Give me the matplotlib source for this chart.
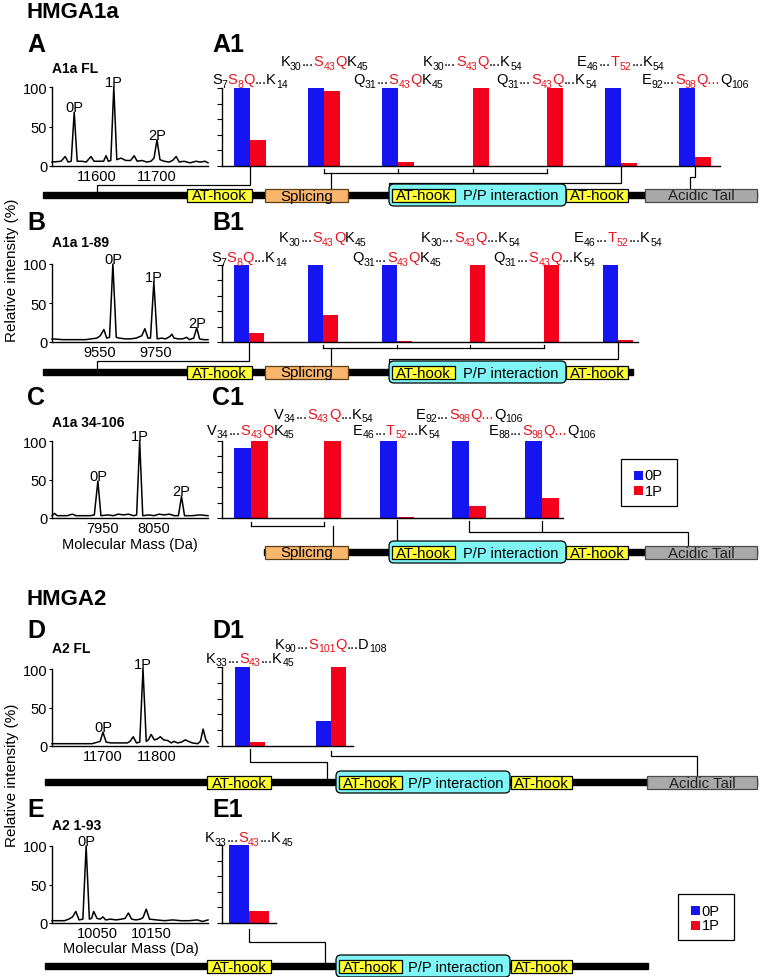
import re
import numpy as np
import matplotlib
matplotlib.use('Agg')
import matplotlib.pyplot as plt
from matplotlib.patches import Rectangle, FancyBboxPatch

plt.rcParams['font.family'] = ['Liberation Sans', 'DejaVu Sans']

# ---------------- data ----------------
# MS spectra (mass in Da, relative intensity %)
A_mass = [11525, 11540, 11547, 11552, 11557, 11562, 11567, 11575, 11582, 11590, 11595, 11605, 11611, 11615,
          11619, 11623, 11628, 11633, 11640, 11648, 11656, 11662, 11667, 11675, 11683, 11690, 11695, 11700,
          11705, 11712, 11720, 11726, 11732, 11737, 11745, 11755, 11765, 11772, 11780, 11785]
A_int = [5, 6, 12, 5, 6, 68, 6, 6, 5, 12, 6, 6, 6, 13,
         6, 7, 100, 8, 10, 7, 7, 13, 6, 7, 5, 6, 10, 33,
         8, 6, 5, 7, 12, 5, 6, 4, 6, 5, 6, 4]
A_peak_labels = ['0P', '1P', '2P']
A_peak_mass = [11562, 11628, 11700]
A_xticks = [11600, 11700]

B_mass = [9380, 9420, 9460, 9500, 9540, 9552, 9565, 9575, 9585, 9597, 9609, 9620, 9640, 9660, 9680, 9700,
          9711, 9722, 9731, 9743, 9755, 9770, 9785, 9800, 9807, 9815, 9830, 9845, 9860, 9870, 9885, 9896,
          9906, 9920, 9936]
B_int = [4, 3, 3, 3, 5, 8, 16, 5, 6, 100, 6, 5, 4, 4, 5, 8,
         17, 5, 5, 77, 4, 5, 4, 7, 10, 5, 4, 4, 6, 3, 5, 18,
         4, 3, 3]
B_peak_labels = ['0P', '1P', '2P']
B_peak_mass = [9597, 9743, 9896]
B_xticks = [9550, 9750]

C_mass = [7850, 7855, 7860, 7870, 7880, 7890, 7897, 7910, 7925, 7933, 7940, 7946, 7960, 7970, 7980, 7990,
          8000, 8010, 8016, 8022, 8028, 8040, 8050, 8060, 8070, 8080, 8090, 8098, 8104, 8110, 8125, 8140, 8156]
C_int = [3, 6, 3, 3, 3, 5, 3, 3, 3, 4, 48, 3, 4, 3, 5, 4,
         5, 3, 4, 100, 3, 4, 3, 5, 4, 5, 3, 3, 28, 3, 3, 4, 3]
C_peak_labels = ['0P', '1P', '2P']
C_peak_mass = [7940, 8022, 8104]
C_xticks = [7950, 8050]

D_mass = [11606, 11620, 11640, 11660, 11680, 11690, 11695, 11700, 11706, 11715, 11730, 11745, 11750, 11756,
          11762, 11768, 11774, 11780, 11784, 11789, 11795, 11800, 11806, 11812, 11820, 11826, 11831, 11838,
          11845, 11852, 11858, 11865, 11875, 11880, 11885, 11890, 11894]
D_int = [3, 3, 3, 3, 3, 5, 6, 18, 5, 4, 4, 4, 6, 12,
         4, 5, 100, 6, 8, 15, 8, 9, 12, 8, 7, 4, 6, 4,
         5, 8, 6, 4, 3, 6, 22, 8, 4]
D_peak_labels = ['0P', '1P']
D_peak_mass = [11700, 11774]
D_xticks = [11700, 11800]

E_mass = [9967, 9980, 9990, 9998, 10005, 10011, 10017, 10024, 10030, 10036, 10040, 10044, 10050, 10056,
          10061, 10066, 10075, 10085, 10095, 10102, 10108, 10114, 10122, 10130, 10135, 10141, 10147, 10160,
          10175, 10190, 10205, 10220, 10235, 10245, 10255]
E_int = [3, 3, 3, 5, 8, 15, 4, 5, 100, 5, 6, 15, 6, 5,
         8, 4, 5, 4, 5, 6, 13, 5, 4, 5, 7, 18, 5, 4,
         3, 4, 3, 3, 4, 2, 4]
E_peak_labels = ['0P']
E_peak_mass = [10030]
E_xticks = [10050, 10150]

# Relative intensities of peptides (0P / 1P); [..] marks the red (phospho-site) part
A1_peptides = ["S_7[S_8Q]...K_14", "K_30...[S_43Q]K_45", "Q_31...[S_43Q]K_45", "K_30...[S_43Q]...K_54",
               "Q_31...[S_43Q]...K_54", "E_46...[T_52]...K_54", "E_92...[S_98Q...]Q_106"]
A1_0P = [100, 100, 100, 0, 0, 100, 100]
A1_1P = [33, 96, 5, 100, 100, 4, 12]

B1_peptides = ["S_7[S_8Q]...K_14", "K_30...[S_43Q]K_45", "Q_31...[S_43Q]K_45", "K_30...[S_43Q]...K_54",
               "Q_31...[S_43Q]...K_54", "E_46...[T_52]...K_54"]
B1_0P = [100, 100, 100, 0, 0, 100]
B1_1P = [12, 35, 1, 100, 100, 2]

C1_peptides = ["V_34...[S_43Q]K_45", "V_34...[S_43Q]...K_54", "E_46...[T_52]...K_54",
               "E_92...[S_98Q...]Q_106", "E_88...[S_98Q...]Q_106"]
C1_0P = [91, 0, 100, 100, 100]
C1_1P = [100, 100, 1, 15, 26]

D1_peptides = ["K_33...[S_43]...K_45", "K_90...[S_101Q]...D_108"]
D1_0P = [100, 32]
D1_1P = [5, 100]

E1_peptides = ["K_33...[S_43]...K_45"]
E1_0P = [100]
E1_1P = [16]

# ---------------- style ----------------
BLUE = '#1515f2'
RED = '#f5001c'
RED_T = '#e8141e'
YELLOW = '#ffff33'
ORANGE = '#f7b66c'
CYAN = '#80f5f5'
GRAY = '#a9a9a9'

W, H = 760, 978
fig = plt.figure(figsize=(W / 100, H / 100), dpi=100)
renderer = fig.canvas.get_renderer()

ov = fig.add_axes([0, 0, 1, 1], zorder=5)
ov.set_xlim(0, W)
ov.set_ylim(H, 0)
ov.axis('off')


def px_axes(x0, y0, x1, y1):
    ax = fig.add_axes([x0 / W, 1 - y1 / H, (x1 - x0) / W, (y1 - y0) / H])
    ax.patch.set_visible(False)
    return ax


def spectrum(rect, mass, inten, xticks, peak_labels, peak_mass, title, tb):
    ax = px_axes(*rect)
    ax.plot(mass, inten, color='black', lw=1.1, clip_on=False)
    ax.set_xlim(mass[0], mass[-1])
    ax.set_ylim(0, 100)
    ax.set_xticks(xticks)
    ax.set_yticks([0, 50, 100])
    for lab, m in zip(peak_labels, peak_mass):
        h = np.interp(m, mass, inten)
        ax.text(m, h + 1.5, lab, ha='center', va='baseline', fontsize=10.5, clip_on=False)
    for s in ('top', 'right'):
        ax.spines[s].set_visible(False)
    for s in ('left', 'bottom'):
        ax.spines[s].set_linewidth(1.0)
    ax.tick_params(axis='y', length=2.5, width=0.8, pad=1, labelsize=10.5)
    ax.tick_params(axis='x', length=0, pad=2.5, labelsize=10.5)
    ov.text(rect[0], tb, title, fontsize=10, fontweight='bold', ha='left', va='baseline')
    return ax


FS_MAIN, FS_SUB, SUB_DROP = 10.5, 7.6, 3.5


def pieces_of(s):
    out = []
    for part in re.split(r'(\[[^\]]*\])', s):
        if not part:
            continue
        c = RED_T if part.startswith('[') else 'black'
        for tok in re.split(r'(_\d+)', part.strip('[]')):
            if not tok:
                continue
            if tok.startswith('_'):
                out.append((tok[1:], c, True))
            else:
                out.append((tok, c, False))
    return out


def label(xc, yb, s):
    pcs = pieces_of(s)
    widths = []
    for t, c, sub in pcs:
        tt = ov.text(0, 0, t, fontsize=FS_SUB if sub else FS_MAIN)
        widths.append(tt.get_window_extent(renderer).width)
        tt.remove()
    x = xc - sum(widths) / 2
    for (t, c, sub), w in zip(pcs, widths):
        ov.text(x, yb + (SUB_DROP if sub else 0), t, color=c,
                fontsize=FS_SUB if sub else FS_MAIN, ha='left', va='baseline')
        x += w


def barchart(rect, g0, step, wpx, peptides, v0, v1, rows):
    ax = px_axes(*rect)
    n = len(peptides)
    x = np.arange(n)
    w = wpx / step
    ax.bar(x - w / 2, v0, w, color=BLUE, linewidth=0)
    ax.bar(x + w / 2, v1, w, color=RED, linewidth=0)
    xl = (-(g0 - rect[0]) / step, (rect[2] - g0) / step)
    ax.set_xlim(*xl)
    ax.set_ylim(0, 100)
    ax.set_yticks(np.arange(0, 101, 20))
    ax.set_yticklabels([])
    ax.set_xticks([])
    for s in ('top', 'right'):
        ax.spines[s].set_visible(False)
    for s in ('left', 'bottom'):
        ax.spines[s].set_linewidth(1.0)
    ax.tick_params(axis='y', length=3.5, width=0.8, direction='out')
    gpx = [rect[0] + (i - xl[0]) / (xl[1] - xl[0]) * (rect[2] - rect[0]) for i in x]
    for i, p in enumerate(peptides):
        label(gpx[i], rows[0] if i % 2 == 0 else rows[1], p)
    return gpx


def line(pts):
    xs, ys = zip(*pts)
    ov.plot(xs, ys, color='black', lw=0.9, solid_joinstyle='miter', zorder=1)


def domain_row(y, x0, x1, boxes):
    ov.add_patch(Rectangle((x0, y - 3), x1 - x0, 6, color='black', zorder=2))
    for kind, a, b, lab in boxes:
        if kind == 'pp':
            ov.add_patch(FancyBboxPatch((a, y - 11), b - a, 22,
                                        boxstyle='round,pad=0,rounding_size=5',
                                        fc=CYAN, ec='black', lw=0.9, zorder=3))
            ia, ib = a + 3, a + 66
            ov.add_patch(Rectangle((ia, y - 6.5), ib - ia, 13, fc=YELLOW, ec='black', lw=0.9, zorder=4))
            ov.text((ia + ib) / 2, y + 0.5, 'AT-hook', fontsize=10.8, ha='center', va='center', zorder=5)
            ov.text((ib + b) / 2, y + 0.5, lab, fontsize=10.5, ha='center', va='center', zorder=5)
        else:
            fc, ec, tc = {'at': (YELLOW, 'black', 'black'),
                          'spl': (ORANGE, '#5c3f16', 'black'),
                          'tail': (GRAY, '#4a4a4a', '#222222')}[kind]
            ov.add_patch(Rectangle((a, y - 6.5), b - a, 13, fc=fc, ec=ec, lw=0.9, zorder=3))
            ov.text((a + b) / 2, y + 0.5, lab, fontsize=10.8, ha='center', va='center', color=tc, zorder=5)


def legend_box(x0, y0, x1, y1):
    ov.add_patch(Rectangle((x0, y0), x1 - x0, y1 - y0, fc='white', ec='black', lw=0.9, zorder=3))
    for k, (c, t) in enumerate([(BLUE, '0P'), (RED, '1P')]):
        yc = y0 + 16 + 15 * k
        ov.add_patch(Rectangle((x0 + 13, yc - 4.5), 9, 9, fc=c, ec='none', zorder=4))
        ov.text(x0 + 23.5, yc + 0.5, t, fontsize=10.5, ha='left', va='center', zorder=5)


# ---------------- titles / letters ----------------
def big(x, yb, s, size=18):
    ov.text(x, yb, s, fontsize=size, fontweight='bold', ha='left', va='baseline')


big(27, 18, 'HMGA1a', 16)
big(27, 52, 'A')
big(212, 52, 'A1')
big(27, 230, 'B')
big(212, 230, 'B1')
big(27, 405, 'C')
big(212, 405, 'C1')
big(27, 605, 'HMGA2', 16)
big(27, 638, 'D')
big(212, 638, 'D1')
big(27, 817, 'E')
big(212, 817, 'E1')

ov.text(12, 270, 'Relative intensity (%)', rotation=90, fontsize=11, ha='center', va='center')
ov.text(12, 775, 'Relative intensity (%)', rotation=90, fontsize=11, ha='center', va='center')
ov.text(130, 549, 'Molecular Mass (Da)', fontsize=10.5, ha='center', va='baseline')
ov.text(131, 953, 'Molecular Mass (Da)', fontsize=10.5, ha='center', va='baseline')

# ---------------- spectra ----------------
spectrum((52, 88, 208, 167), A_mass, A_int, A_xticks, A_peak_labels, A_peak_mass, 'A1a FL', 73)
spectrum((52, 265, 208, 343), B_mass, B_int, B_xticks, B_peak_labels, B_peak_mass, 'A1a 1-89', 247)
spectrum((52, 442, 208, 519), C_mass, C_int, C_xticks, C_peak_labels, C_peak_mass, 'A1a 34-106', 427)
spectrum((52, 670, 208, 747), D_mass, D_int, D_xticks, D_peak_labels, D_peak_mass, 'A2 FL', 653)
spectrum((52, 847, 208, 924), E_mass, E_int, E_xticks, E_peak_labels, E_peak_mass, 'A2 1-93', 830)

# ---------------- bar charts ----------------
gA = barchart((222, 89, 720, 167), 250, 74.17, 16, A1_peptides, A1_0P, A1_1P, (84, 66))
gB = barchart((222, 266, 638, 343), 249, 73.8, 15, B1_peptides, B1_0P, B1_1P, (262, 242))
gC = barchart((222, 442, 563, 519), 251, 72.75, 17, C1_peptides, C1_0P, C1_1P, (435, 419))
gD = barchart((222, 668, 353, 747), 250, 81, 15, D1_peptides, D1_0P, D1_1P, (663, 649))
gE = barchart((222, 846, 276, 924), 249, 50, 20, E1_peptides, E1_0P, E1_1P, (842, 842))

# ---------------- domain diagrams ----------------
rowA = [('at', 187, 252, 'AT-hook'), ('spl', 265, 348, 'Splicing'), ('pp', 389, 566, 'P/P interaction'),
        ('at', 566, 628, 'AT-hook'), ('tail', 645, 757, 'Acidic Tail')]
domain_row(196, 43, 757, rowA)
domain_row(373, 43, 633, rowA[:4])
domain_row(553, 264, 757, rowA[1:])
rowD = [('at', 207, 271, 'AT-hook'), ('pp', 336, 510, 'P/P interaction'),
        ('at', 511, 572, 'AT-hook'), ('tail', 647, 757, 'Acidic Tail')]
domain_row(783, 45, 757, rowD)
domain_row(967, 45, 648, rowD[:3])

# ---------------- connectors ----------------
# A1
line([(gA[0], 167), (gA[0], 186), (97, 186), (97, 193)])
for g in gA[1:5]:
    line([(g, 170), (g, 174)])
line([(gA[1], 174), (gA[4], 174)])
line([(331, 174), (331, 189)])
line([(gA[5], 167), (gA[5], 184), (389, 184), (389, 190)])
line([(gA[6], 167), (gA[6], 178), (690, 178), (690, 189)])
# B1
line([(gB[0], 343), (gB[0], 362), (97, 362), (97, 370)])
for g in gB[1:5]:
    line([(g, 346), (g, 349)])
line([(gB[1], 349), (gB[4], 349)])
line([(331, 349), (331, 366)])
line([(gB[5], 343), (gB[5], 360), (389, 360), (389, 365)])
# C1
for g in gC[0:2]:
    line([(g, 523), (g, 527)])
line([(gC[0], 527), (gC[1], 527)])
line([(333, 527), (333, 546)])
line([(gC[2], 521), (gC[2], 545)])
line([(gC[3], 522), (gC[3], 533), (688, 533), (688, 546)])
line([(gC[4], 522), (gC[4], 533)])
# D1
line([(gD[0], 750), (gD[0], 763), (327, 763), (327, 780)])
line([(gD[1], 752), (gD[1], 757), (697, 757), (697, 776)])
# E1
line([(gE[0], 930), (gE[0], 943), (325, 943), (325, 964)])

# ---------------- legends ----------------
legend_box(621, 460, 677, 507)
legend_box(678, 895, 734, 941)

fig.savefig('out.png', dpi=100)
